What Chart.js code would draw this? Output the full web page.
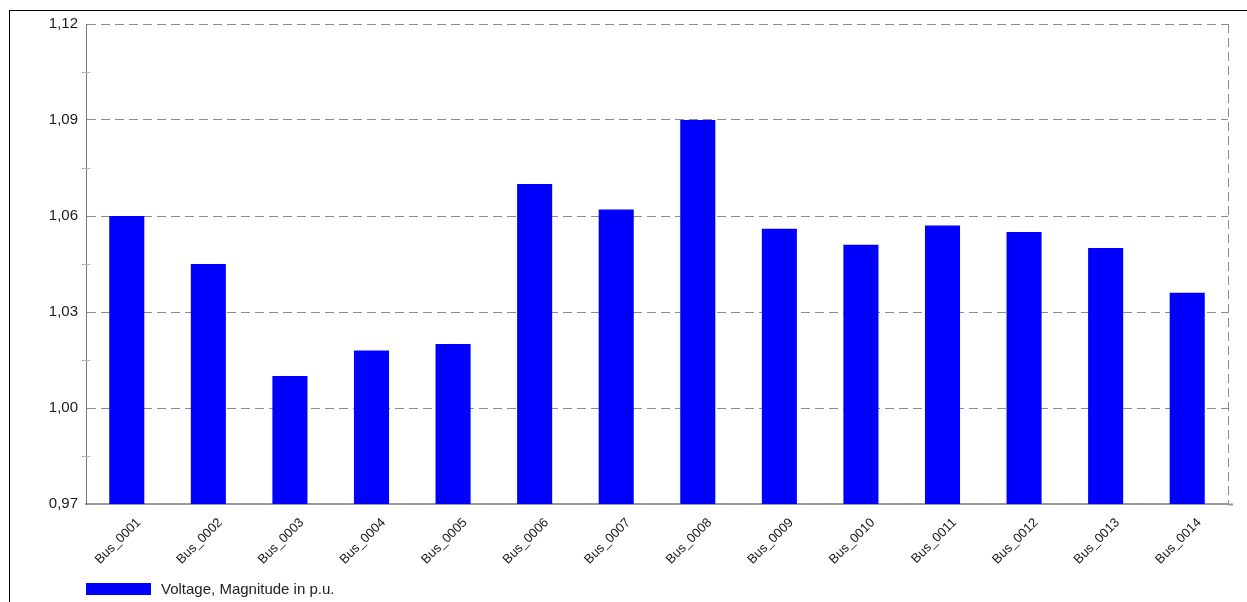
<!DOCTYPE html>
<html>
<head>
<meta charset="utf-8">
<title>Voltage magnitude per bus</title>
<script src="https://cdn.jsdelivr.net/npm/chart.js@4.4.1/dist/chart.umd.min.js"></script>
<style>
  html, body { margin: 0; padding: 0; background: #fff; }
  #wrap { position: relative; width: 1247px; height: 602px; overflow: hidden; }
  #frame { position: absolute; left: 9px; top: 10px; right: 0; bottom: -2px;
           border-left: 1px solid #000; border-top: 1px solid #000; pointer-events: none; }
  #legend { position: absolute; left: 86px; top: 580px; font: 15px "Liberation Sans", Arial, sans-serif;
            color: #222; display: flex; align-items: center; }
  #legend .box { width: 65px; height: 12px; background: #0000ff; margin-right: 10px; }
</style>
</head>
<body>
<div id="wrap">
  <canvas id="busChart" width="1247" height="602"></canvas>
  <div id="frame"></div>
  <div id="legend"><span class="box"></span><span id="legendText"></span></div>
</div>
<script>
/* ── data ── */
const buses = ['Bus_0001', 'Bus_0002', 'Bus_0003', 'Bus_0004', 'Bus_0005', 'Bus_0006', 'Bus_0007',
               'Bus_0008', 'Bus_0009', 'Bus_0010', 'Bus_0011', 'Bus_0012', 'Bus_0013', 'Bus_0014'];
const voltagePu = [1.060, 1.045, 1.010, 1.018, 1.020, 1.070, 1.062,
                   1.090, 1.056, 1.051, 1.057, 1.055, 1.050, 1.036];
const seriesLabel = 'Voltage, Magnitude in p.u.';
const yMin = 0.97, yMax = 1.12, yStep = 0.03;

const FONT = '"Liberation Sans", Arial, sans-serif';
document.getElementById('legendText').textContent = seriesLabel;

// right dashed border + small minor ticks on the value axis
const framePlugin = {
    id: 'frameDecor',
    afterDraw(chart) {
        const { ctx, chartArea: a, scales: { y } } = chart;
        ctx.save();
        ctx.strokeStyle = '#8c8c8c';
        ctx.lineWidth = 1;
        ctx.setLineDash([9, 5]);
        ctx.beginPath();
        ctx.moveTo(a.right + 0.5, a.top);
        ctx.lineTo(a.right + 0.5, a.bottom);
        ctx.stroke();
        ctx.setLineDash([]);
        ctx.strokeStyle = '#b0b0b0';
        const t = y.ticks;
        for (let i = 0; i < t.length - 1; i++) {
            const py = Math.round(y.getPixelForValue((t[i].value + t[i + 1].value) / 2)) + 0.5;
            ctx.beginPath();
            ctx.moveTo(a.left - 4, py);
            ctx.lineTo(a.left + 4, py);
            ctx.stroke();
        }
        // bottom axis runs a little past the plot
        ctx.strokeStyle = '#999';
        ctx.lineWidth = 2;
        ctx.beginPath();
        ctx.moveTo(a.right, a.bottom + 0.5);
        ctx.lineTo(a.right + 5, a.bottom + 0.5);
        ctx.stroke();
        ctx.restore();
    }
};

new Chart(document.getElementById('busChart'), {
    type: 'bar',
    data: {
        labels: buses,
        datasets: [{
            label: seriesLabel,
            data: voltagePu,
            backgroundColor: '#0000ff',
            borderWidth: 0,
            barPercentage: 0.43,
            categoryPercentage: 1.0
        }]
    },
    options: {
        responsive: false,
        animation: false,
        layout: { padding: { left: 0, top: 24, right: 19, bottom: 0 } },
        plugins: { legend: { display: false }, tooltip: { enabled: false } },
        scales: {
            x: {
                grid: { display: false },
                border: { display: true, color: '#999', width: 2 },
                ticks: {
                    autoSkip: false, minRotation: 45, maxRotation: 45,
                    labelOffset: 12, padding: 3,
                    color: '#1a1a1a', font: { family: FONT, size: 13 }
                },
                afterFit: s => { s.height = 98; }
            },
            y: {
                min: yMin, max: yMax,
                ticks: {
                    stepSize: yStep, padding: 8,
                    color: '#1a1a1a', font: { family: FONT, size: 15 },
                    callback: v => v.toFixed(2).replace('.', ',')
                },
                grid: { color: '#8c8c8c', lineWidth: 1, drawTicks: false },
                border: { display: true, color: '#777', width: 1, dash: [9, 5] },
                afterFit: s => { s.width = 86; }
            }
        }
    },
    plugins: [framePlugin]
});
</script>
</body>
</html>
